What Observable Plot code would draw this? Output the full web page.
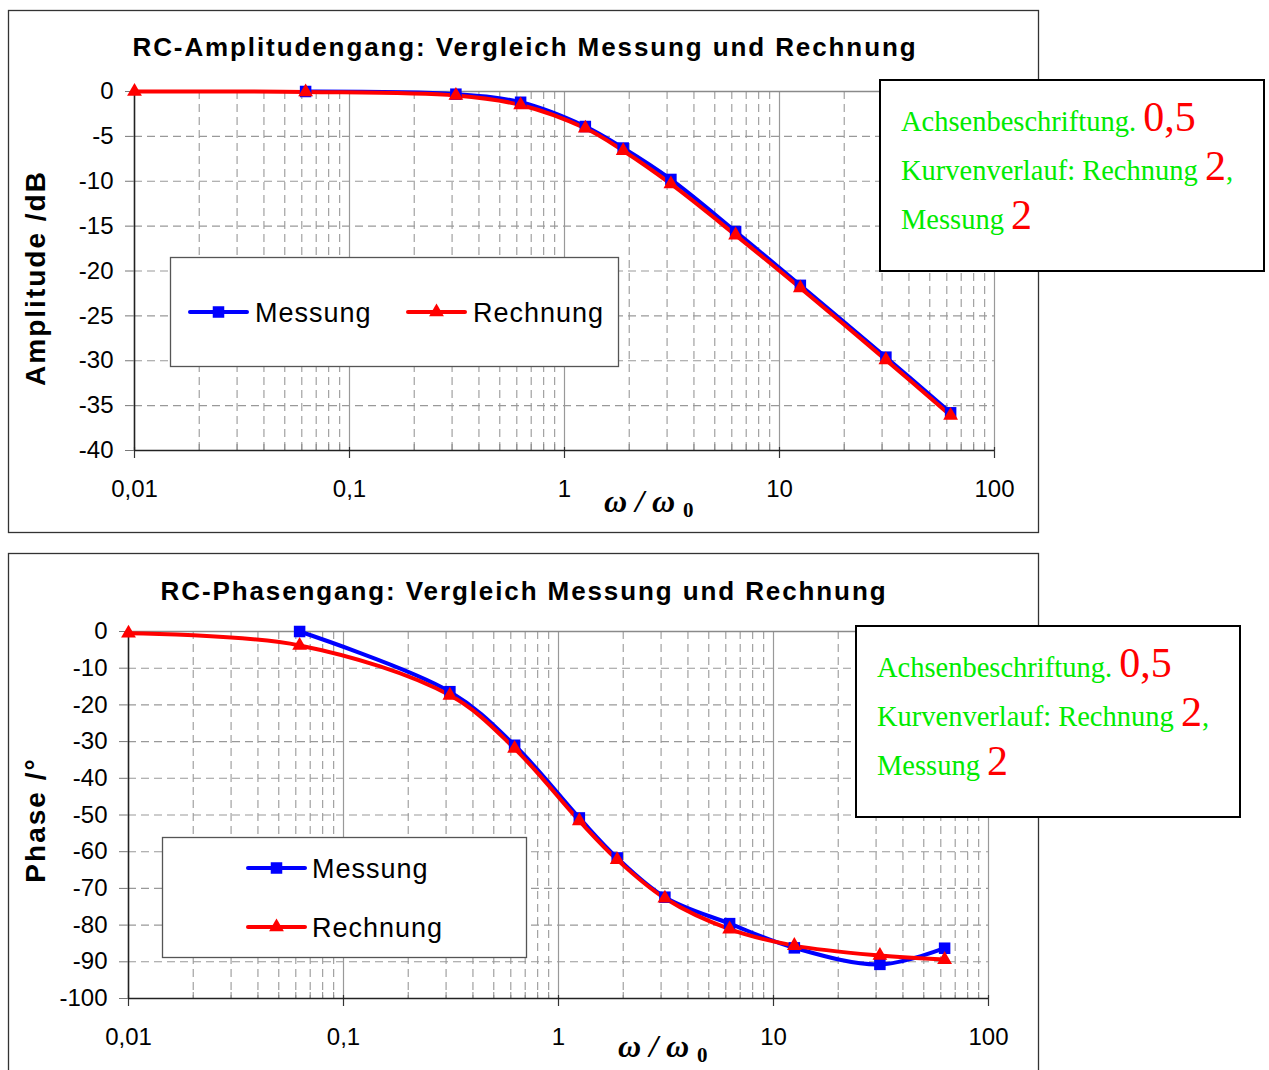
<!DOCTYPE html>
<html><head><meta charset="utf-8">
<script src="https://cdn.jsdelivr.net/npm/d3@7"></script>
<script src="https://cdn.jsdelivr.net/npm/@observablehq/plot@0.6"></script>
<style>
body{margin:0;background:#fff;}
#wrap{position:relative;width:1269px;height:1070px;overflow:hidden;background:#fff;}
#wrap > svg{position:absolute;left:0;}
</style></head><body><div id="wrap"></div>
<script>
// ---- data ----
const xTicks = [0.01, 0.1, 1, 10, 100];
const xTickLabels = ["0,01", "0,1", "1", "10", "100"];
const ampTicks = [0, -5, -10, -15, -20, -25, -30, -35, -40];
const phaseTicks = [0, -10, -20, -30, -40, -50, -60, -70, -80, -90, -100];

const xMess = [0.0625, 0.3125, 0.625, 1.25, 1.875, 3.125, 6.25, 12.5, 31.25, 62.5];
const xRech = [0.01, 0.0625, 0.3125, 0.625, 1.25, 1.875, 3.125, 6.25, 12.5, 31.25, 62.5];

const ampMess = [0, -0.3, -1.2, -3.9, -6.3, -9.8, -15.6, -21.6, -29.6, -35.8];
const ampRech = [0, -0.05, -0.45, -1.5, -4.1, -6.6, -10.3, -16.0, -21.9, -29.9, -36.1];

const phaseMess = [0, -16.4, -31.0, -50.8, -61.7, -72.4, -79.6, -86.2, -90.7, -86.3];
const phaseRech = [-0.5, -3.8, -17.4, -31.9, -51.6, -62.2, -72.7, -81.1, -85.6, -88.3, -89.4];

const seriesNames = ["Messung", "Rechnung"];
const titles = ["RC-Amplitudengang: Vergleich Messung und Rechnung", "RC-Phasengang: Vergleich Messung und Rechnung"];
const yTitles = ["Amplitude /dB", "Phase /°"];
const noteGreen = ["Achsenbeschriftung. ", "Kurvenverlauf: Rechnung ", "Messung "];
const noteRed = ["0,5", "2", "2"];
const noteTail = ["", ",", ""];

const BLUE = "#0000ff", RED = "#ff0000", GREEN = "rgb(0,235,0)";
const SANS = "'Liberation Sans', Arial, sans-serif";
const SERIF = "'Liberation Serif', 'Times New Roman', serif";
const R_SQ = 6.5, R_TRI = 5.5;

// minor decade ticks derived from the decade ticks
const minor = [];
xTicks.slice(0, -1).forEach(d => { for (let k = 2; k <= 9; k++) minor.push(d * k); });

const wrap = document.getElementById("wrap");

function makeChart(o) {
  const mt = 91, mb = 82;
  const plotH = o.height - mt - mb;
  const mess = o.xM.map((x, i) => ({x, y: o.yM[i]}));
  const rech = o.xR.map((x, i) => ({x, y: o.yR[i]}));
  const yMin = d3.min(o.yTicks), yMax = d3.max(o.yTicks);
  const inner = o.yTicks.filter(v => v !== yMin && v !== yMax);
  const svg = Plot.plot({
    width: 1269, height: o.height,
    marginLeft: o.ml, marginRight: o.mr, marginTop: mt, marginBottom: mb,
    style: {background: "transparent", fontFamily: SANS, fontSize: "24px", color: "#000", overflow: "visible"},
    x: {type: "log", domain: [xTicks[0], xTicks[xTicks.length - 1]]},
    y: {domain: [yMin, yMax]},
    marks: [
      Plot.ruleX(minor, {stroke: "#999", strokeDasharray: "8,5", strokeWidth: 1.1}),
      Plot.ruleY(inner, {stroke: "#999", strokeDasharray: "8,5", strokeWidth: 1.1}),
      Plot.ruleX(xTicks.slice(1), {stroke: "#999", strokeWidth: 1.2}),
      Plot.ruleY([yMax], {stroke: "#8a8a8a", strokeWidth: 1.5}),
      Plot.ruleX(minor, {stroke: "#888", strokeWidth: 1, insetTop: plotH - 6}),
      Plot.ruleX(xTicks, {stroke: "#333", strokeWidth: 1.2, insetTop: plotH - 3, insetBottom: -8}),
      Plot.ruleX([xTicks[0]], {stroke: "#222", strokeWidth: 1.6}),
      Plot.ruleY([yMin], {stroke: "#222", strokeWidth: 1.6}),
      Plot.axisY(o.yTicks, {tickSize: 9, tickPadding: 12, stroke: "#777", fill: "#000", label: null,
        tickFormat: d => String(d)}),
      Plot.axisX(xTicks, {tickSize: 0, tickPadding: 29, fill: "#000", label: null,
        tickFormat: d => xTickLabels[xTicks.indexOf(d)]}),
      Plot.line(mess, {x: "x", y: "y", stroke: BLUE, strokeWidth: 4, curve: "catmull-rom"}),
      Plot.line(rech, {x: "x", y: "y", stroke: RED, strokeWidth: 4, curve: "catmull-rom"}),
      Plot.dot(mess, {x: "x", y: "y", symbol: "square", fill: BLUE, r: R_SQ}),
      Plot.dot(rech, {x: "x", y: "y", symbol: "triangle", fill: RED, r: R_TRI})
    ]
  });
  svg.style.top = o.top + "px";
  wrap.appendChild(svg);
}

makeChart({height: 532, top: 0, ml: 134, mr: 275, yTicks: ampTicks, xM: xMess, yM: ampMess, xR: xRech, yR: ampRech});
makeChart({height: 540, top: 540, ml: 128, mr: 281, yTicks: phaseTicks, xM: xMess, yM: phaseMess, xR: xRech, yR: phaseRech});

// ---- overlay: frames, titles, legends, notes ----
const ov = d3.select(wrap).append("svg").attr("width", 1269).attr("height", 1070).style("top", "0px");

const panels = [
  {frameY: 10, frameH: 522, titleX: 525, titleY: 56, yTitleY: 278, omegaX: 604, omegaY: 512,
   legend: {x: 170, y: 257, w: 448, h: 109, items: [{lx: 190, ly: 312, tx: 255, ty: 322}, {lx: 408, ly: 312, tx: 473, ty: 322}]},
   note: {x: 880, y: 80, w: 384, h: 191, tx: 901, ty: [131, 180, 229]}},
  {frameY: 553, frameH: 540, titleX: 524, titleY: 600, yTitleY: 820, omegaX: 618, omegaY: 1057,
   legend: {x: 162, y: 837, w: 364, h: 120, items: [{lx: 248, ly: 868, tx: 312, ty: 878}, {lx: 248, ly: 927, tx: 312, ty: 937}]},
   note: {x: 856, y: 626, w: 384, h: 191, tx: 877, ty: [677, 726, 775]}}
];
const colors = [BLUE, RED];
const symbols = [d3.symbolSquare, d3.symbolTriangle];
const symSizes = [Math.PI * R_SQ * R_SQ, Math.PI * R_TRI * R_TRI];

panels.forEach((p, pi) => {
  ov.append("rect").attr("x", 8.5).attr("y", p.frameY + 0.5).attr("width", 1030).attr("height", p.frameH)
    .attr("fill", "none").attr("stroke", "#333").attr("stroke-width", 1.3);
  ov.append("text").attr("x", p.titleX).attr("y", p.titleY).attr("text-anchor", "middle")
    .style("font", `bold 26px ${SANS}`).style("letter-spacing", "1.9px").text(titles[pi]);
  ov.append("text").attr("transform", `translate(45,${p.yTitleY}) rotate(-90)`).attr("text-anchor", "middle")
    .style("font", `bold 28px ${SANS}`).style("letter-spacing", "2px").text(yTitles[pi]);
  ov.append("text").attr("x", p.omegaX).attr("y", p.omegaY)
    .style("font", `italic bold 32px ${SERIF}`).style("white-space", "pre").text("ω / ω");
  ov.append("text").attr("x", p.omegaX + 79).attr("y", p.omegaY + 5)
    .style("font", `bold 21px ${SERIF}`).text("0");

  const L = p.legend;
  ov.append("rect").attr("x", L.x + 0.5).attr("y", L.y + 0.5).attr("width", L.w).attr("height", L.h)
    .attr("fill", "#fff").attr("stroke", "#555").attr("stroke-width", 1.3);
  L.items.forEach((it, i) => {
    ov.append("line").attr("x1", it.lx).attr("x2", it.lx + 57).attr("y1", it.ly).attr("y2", it.ly)
      .attr("stroke", colors[i]).attr("stroke-width", 4).attr("stroke-linecap", "round");
    ov.append("path").attr("d", d3.symbol(symbols[i], symSizes[i])())
      .attr("transform", `translate(${it.lx + 28.5},${it.ly})`).attr("fill", colors[i]);
    ov.append("text").attr("x", it.tx).attr("y", it.ty)
      .style("font", `27px ${SANS}`).style("letter-spacing", "1px").text(seriesNames[i]);
  });

  const N = p.note;
  ov.append("rect").attr("x", N.x).attr("y", N.y).attr("width", N.w).attr("height", N.h)
    .attr("fill", "#fff").attr("stroke", "#000").attr("stroke-width", 2);
  N.ty.forEach((ty, i) => {
    const t = ov.append("text").attr("x", N.tx).attr("y", ty).style("white-space", "pre");
    t.append("tspan").attr("fill", GREEN).style("font", `28.5px ${SERIF}`).text(noteGreen[i]);
    t.append("tspan").attr("fill", RED).style("font", `42px ${SERIF}`).text(noteRed[i]);
    if (noteTail[i]) t.append("tspan").attr("fill", GREEN).style("font", `28.5px ${SERIF}`).text(noteTail[i]);
  });
});
</script></body></html>
